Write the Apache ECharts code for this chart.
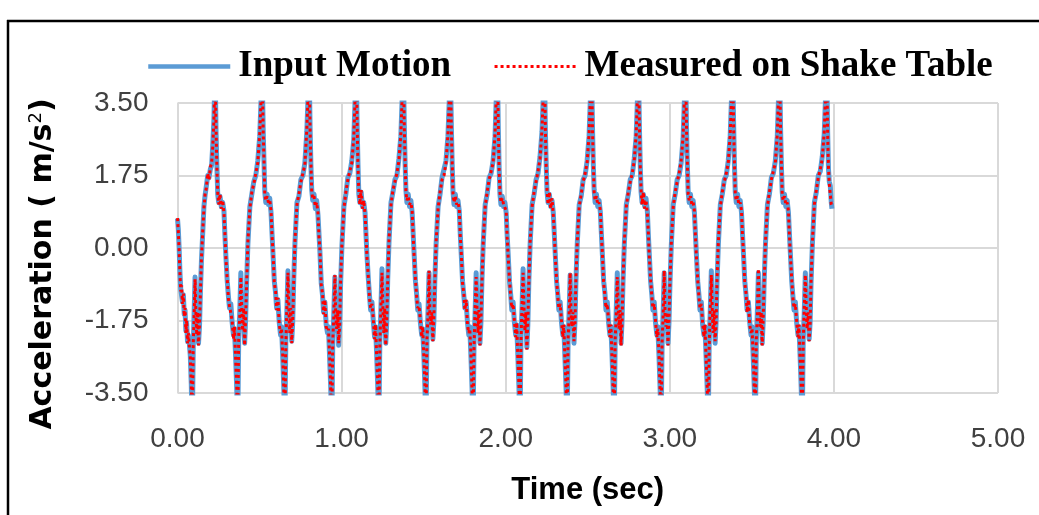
<!DOCTYPE html>
<html>
<head>
<meta charset="utf-8">
<title>Acceleration time history</title>
<script src="https://cdn.jsdelivr.net/npm/echarts@6/dist/echarts.min.js"></script>
<style>
  html, body { margin: 0; padding: 0; background: #fff; }
  #chart { width: 1039px; height: 515px; }
</style>
</head>
<body>
<div id="chart"></div>
<script>
// Sample times (ms)
const timeMs = [
  0, 5, 10, 15, 20, 25, 30, 36, 41, 46, 51, 56, 61, 66, 72, 78, 84, 90, 96, 101, 107, 112, 117, 122, 128, 134, 140, 146, 153, 161, 168, 176, 184, 192, 200, 208, 215, 222,
  229, 235, 240, 245, 251, 259, 267, 275, 283, 289, 295, 303, 311, 317, 325, 333, 341, 347, 354, 361, 367, 373, 379, 386, 391, 397, 403, 409, 415, 421, 429, 441, 453, 465, 477, 489, 501,
  516, 522, 527, 532, 538, 546, 554, 562, 570, 576, 582, 590, 598, 604, 612, 620, 628, 634, 641, 648, 654, 660, 666, 673, 678, 684, 690, 696, 702, 708, 716, 728, 740, 752, 764, 776, 788,
  802, 808, 813, 818, 824, 832, 840, 848, 856, 862, 868, 876, 884, 890, 898, 906, 914, 920, 927, 934, 940, 946, 952, 959, 964, 970, 976, 982, 988, 994, 1002, 1014, 1026, 1038, 1050, 1062, 1074,
  1089, 1095, 1100, 1105, 1111, 1119, 1127, 1135, 1143, 1149, 1155, 1163, 1171, 1177, 1185, 1193, 1201, 1207, 1214, 1221, 1227, 1233, 1239, 1246, 1251, 1257, 1263, 1269, 1275, 1281, 1289, 1301, 1313, 1325, 1337, 1349, 1361,
  1376, 1382, 1387, 1392, 1398, 1406, 1414, 1422, 1430, 1436, 1442, 1450, 1458, 1464, 1472, 1480, 1488, 1494, 1501, 1508, 1514, 1520, 1526, 1533, 1538, 1544, 1550, 1556, 1562, 1568, 1576, 1588, 1600, 1612, 1624, 1636, 1648,
  1663, 1669, 1674, 1679, 1685, 1693, 1701, 1709, 1717, 1723, 1729, 1737, 1745, 1751, 1759, 1767, 1775, 1781, 1788, 1795, 1801, 1807, 1813, 1820, 1825, 1831, 1837, 1843, 1849, 1855, 1863, 1875, 1887, 1899, 1911, 1923, 1935,
  1949, 1955, 1960, 1965, 1971, 1979, 1987, 1995, 2003, 2009, 2015, 2023, 2031, 2037, 2045, 2053, 2061, 2067, 2074, 2081, 2087, 2093, 2099, 2106, 2111, 2117, 2123, 2129, 2135, 2141, 2149, 2161, 2173, 2185, 2197, 2209, 2221,
  2236, 2242, 2247, 2252, 2258, 2266, 2274, 2282, 2290, 2296, 2302, 2310, 2318, 2324, 2332, 2340, 2348, 2354, 2361, 2368, 2374, 2380, 2386, 2393, 2398, 2404, 2410, 2416, 2422, 2428, 2436, 2448, 2460, 2472, 2484, 2496, 2508,
  2523, 2529, 2534, 2539, 2545, 2553, 2561, 2569, 2577, 2583, 2589, 2597, 2605, 2611, 2619, 2627, 2635, 2641, 2648, 2655, 2661, 2667, 2673, 2680, 2685, 2691, 2697, 2703, 2709, 2715, 2723, 2735, 2747, 2759, 2771, 2783, 2795,
  2809, 2815, 2820, 2825, 2831, 2839, 2847, 2855, 2863, 2869, 2875, 2883, 2891, 2897, 2905, 2913, 2921, 2927, 2934, 2941, 2947, 2953, 2959, 2966, 2971, 2977, 2983, 2989, 2995, 3001, 3009, 3021, 3033, 3045, 3057, 3069, 3081,
  3096, 3102, 3107, 3112, 3118, 3126, 3134, 3142, 3150, 3156, 3162, 3170, 3178, 3184, 3192, 3200, 3208, 3214, 3221, 3228, 3234, 3240, 3246, 3253, 3258, 3264, 3270, 3276, 3282, 3288, 3296, 3308, 3320, 3332, 3344, 3356, 3368,
  3383, 3389, 3394, 3399, 3405, 3413, 3421, 3429, 3437, 3443, 3449, 3457, 3465, 3471, 3479, 3487, 3495, 3501, 3508, 3515, 3521, 3527, 3533, 3540, 3545, 3551, 3557, 3563, 3569, 3575, 3583, 3595, 3607, 3619, 3631, 3643, 3655,
  3669, 3675, 3680, 3685, 3691, 3699, 3707, 3715, 3723, 3729, 3735, 3743, 3751, 3757, 3765, 3773, 3781, 3787, 3794, 3801, 3807, 3813, 3819, 3826, 3831, 3837, 3843, 3849, 3855, 3861, 3869, 3881, 3893, 3905, 3917, 3929, 3941,
  3956, 3962, 3967, 3972, 3978, 3984, 3988
];

// Input motion acceleration (m/s2)
const inputMotion = [
  0.71, 0.45, 0.0, -0.6, -1.0, -0.97, -1.3, -1.13, -1.6, -1.5, -2.0, -1.8, -2.26, -2.1, -2.3, -2.6, -3.3, -4.4, -2.4, -1.6, -0.7, -1.6, -2.0, -1.6, -2.3, -1.9, -1.0, -0.3, 0.3, 1.0, 1.27, 1.5, 1.75, 1.7, 1.9, 2.0, 2.5, 3.1,
  4.4, 2.8, 2.0, 1.3, 1.1, 1.25, 1.0, 1.1, 0.9, 0.3, -0.2, -0.8, -1.2, -1.45, -1.35, -1.8, -2.1, -1.95, -2.6, -3.4, -4.4, -2.2, -1.6, -0.6, -1.5, -1.9, -1.55, -2.3, -1.75, -0.85, 0.1, 1.0, 1.3, 1.6, 1.75, 2.1, 2.7,
  4.3, 2.9, 2.1, 1.35, 1.1, 1.3, 1.05, 1.2, 0.85, 0.35, -0.15, -0.8, -1.1, -1.45, -1.25, -1.8, -2.1, -1.9, -2.6, -3.4, -4.4, -2.3, -1.6, -0.55, -1.45, -1.95, -1.5, -2.25, -1.8, -0.8, 0.15, 1.1, 1.25, 1.65, 1.75, 2.05, 2.8,
  4.4, 2.9, 2.0, 1.4, 1.15, 1.3, 0.95, 1.15, 0.8, 0.35, -0.1, -0.85, -1.15, -1.55, -1.3, -1.85, -2.05, -1.9, -2.65, -3.4, -4.5, -2.35, -1.65, -0.7, -1.5, -2.0, -1.45, -2.35, -1.85, -0.85, 0.05, 1.0, 1.3, 1.7, 1.8, 2.1, 2.6,
  4.4, 2.9, 2.0, 1.3, 1.1, 1.35, 1.0, 1.1, 0.85, 0.3, -0.2, -0.75, -1.2, -1.5, -1.3, -1.75, -2.15, -1.9, -2.6, -3.45, -4.4, -2.25, -1.55, -0.5, -1.4, -1.95, -1.5, -2.3, -1.8, -0.75, 0.15, 1.1, 1.35, 1.65, 1.75, 2.15, 2.7,
  4.4, 3.0, 2.05, 1.4, 1.1, 1.3, 1.0, 1.15, 0.85, 0.35, -0.15, -0.8, -1.15, -1.5, -1.35, -1.8, -2.1, -1.95, -2.55, -3.4, -4.4, -2.3, -1.6, -0.6, -1.5, -1.9, -1.5, -2.2, -1.8, -0.8, 0.1, 1.0, 1.3, 1.7, 1.7, 2.1, 2.7,
  4.3, 2.9, 2.0, 1.35, 1.05, 1.3, 1.0, 1.15, 0.9, 0.35, -0.15, -0.8, -1.15, -1.45, -1.3, -1.8, -2.1, -1.9, -2.6, -3.4, -4.4, -2.3, -1.65, -0.6, -1.55, -2.0, -1.55, -2.3, -1.8, -0.8, 0.1, 1.05, 1.3, 1.7, 1.8, 2.1, 2.7,
  4.4, 2.9, 1.95, 1.3, 1.05, 1.25, 1.0, 1.1, 0.85, 0.3, -0.15, -0.8, -1.15, -1.5, -1.3, -1.8, -2.1, -1.85, -2.6, -3.4, -4.5, -2.2, -1.5, -0.5, -1.5, -1.95, -1.6, -2.4, -1.85, -0.8, 0.1, 1.05, 1.3, 1.65, 1.8, 2.2, 2.8,
  4.4, 2.8, 2.0, 1.35, 1.1, 1.3, 1.0, 1.15, 0.85, 0.35, -0.15, -0.8, -1.15, -1.5, -1.3, -1.8, -2.1, -1.9, -2.65, -3.4, -4.4, -2.3, -1.6, -0.65, -1.5, -1.95, -1.5, -2.3, -1.8, -0.8, 0.1, 1.05, 1.25, 1.65, 1.75, 2.1, 2.7,
  4.4, 2.9, 2.0, 1.4, 1.1, 1.3, 1.0, 1.15, 0.85, 0.35, -0.15, -0.8, -1.1, -1.5, -1.3, -1.8, -2.1, -1.9, -2.6, -3.4, -4.4, -2.3, -1.6, -0.6, -1.5, -1.9, -1.55, -2.3, -1.75, -0.8, 0.1, 1.05, 1.3, 1.65, 1.75, 2.15, 2.7,
  4.3, 2.9, 2.0, 1.35, 1.1, 1.3, 1.0, 1.2, 0.9, 0.35, -0.15, -0.8, -1.15, -1.5, -1.3, -1.8, -2.1, -1.9, -2.6, -3.4, -4.4, -2.35, -1.6, -0.6, -1.5, -1.95, -1.6, -2.3, -1.8, -0.85, 0.05, 1.05, 1.3, 1.65, 1.75, 2.05, 2.65,
  4.4, 2.9, 2.0, 1.35, 1.1, 1.3, 1.0, 1.15, 0.85, 0.35, -0.15, -0.8, -1.15, -1.5, -1.3, -1.85, -2.1, -1.9, -2.6, -3.4, -4.4, -2.3, -1.6, -0.55, -1.5, -1.95, -1.55, -2.3, -1.8, -0.8, 0.1, 1.05, 1.3, 1.65, 1.75, 2.1, 2.7,
  4.4, 3.0, 2.0, 1.35, 1.1, 1.3, 1.0, 1.15, 0.85, 0.35, -0.15, -0.8, -1.15, -1.5, -1.3, -1.8, -2.1, -1.9, -2.6, -3.4, -4.4, -2.3, -1.6, -0.6, -1.5, -1.95, -1.5, -2.3, -1.8, -0.8, 0.1, 1.05, 1.3, 1.7, 1.8, 2.1, 2.7,
  4.4, 2.9, 2.0, 1.35, 1.1, 1.3, 1.0, 1.15, 0.85, 0.35, -0.15, -0.8, -1.2, -1.5, -1.3, -1.8, -2.1, -1.9, -2.6, -3.4, -4.4, -2.2, -1.6, -0.6, -1.5, -1.9, -1.5, -2.2, -1.8, -0.8, 0.1, 1.1, 1.35, 1.75, 1.85, 2.2, 2.75,
  4.4, 2.8, 1.9, 1.6, 1.5, 1.1, 0.95
];

// Acceleration recorded on the shake table (m/s2)
const shakeTable = [
  0.72, 0.4, -0.05, -0.65, -1.05, -0.9, -1.35, -1.1, -1.65, -1.45, -2.05, -1.75, -2.3, -2.05, -2.35, -2.65, -3.3, -4.4, -2.3, -1.7, -0.75, -1.55, -2.1, -1.55, -2.35, -1.85, -1.05, -0.25, 0.35, 0.95, 1.3, 1.45, 1.8, 1.65, 1.95, 2.05, 2.45, 3.1,
  4.4, 2.85, 1.95, 1.35, 1.05, 1.3, 0.95, 1.15, 0.85, 0.35, -0.25, -0.75, -1.25, -1.4, -1.4, -1.75, -2.2, -1.9, -2.65, -3.35, -4.4, -2.1, -1.7, -0.7, -1.4, -2.0, -1.45, -2.35, -1.7, -0.9, 0.15, 0.95, 1.35, 1.55, 1.8, 2.05, 2.75,
  4.3, 2.85, 2.15, 1.3, 1.15, 1.25, 1.1, 1.15, 0.9, 0.3, -0.1, -0.85, -1.05, -1.5, -1.2, -1.85, -2.05, -1.95, -2.55, -3.45, -4.4, -2.4, -1.5, -0.6, -1.4, -2.05, -1.45, -2.3, -1.75, -0.85, 0.2, 1.05, 1.3, 1.6, 1.8, 2.0, 2.85,
  4.4, 2.85, 2.05, 1.35, 1.2, 1.25, 1.0, 1.1, 0.85, 0.3, -0.05, -0.9, -1.1, -1.6, -1.25, -1.9, -2.0, -1.95, -2.6, -3.45, -4.5, -2.25, -1.7, -0.65, -1.6, -1.95, -1.5, -2.3, -1.9, -0.8, 0.1, 0.95, 1.35, 1.65, 1.85, 2.05, 2.65,
  4.4, 2.95, 1.95, 1.35, 1.05, 1.4, 0.95, 1.15, 0.8, 0.35, -0.25, -0.7, -1.25, -1.45, -1.35, -1.7, -2.2, -1.85, -2.65, -3.4, -4.4, -2.35, -1.5, -0.6, -1.35, -2.05, -1.45, -2.35, -1.75, -0.8, 0.2, 1.05, 1.4, 1.6, 1.8, 2.1, 2.75,
  4.4, 2.95, 2.1, 1.35, 1.15, 1.25, 1.05, 1.1, 0.9, 0.3, -0.2, -0.75, -1.2, -1.45, -1.4, -1.75, -2.15, -1.9, -2.6, -3.35, -4.4, -2.2, -1.7, -0.55, -1.6, -1.85, -1.55, -2.25, -1.7, -0.85, 0.15, 0.95, 1.35, 1.65, 1.75, 2.05, 2.75,
  4.3, 2.85, 2.05, 1.3, 1.1, 1.25, 1.05, 1.1, 0.95, 0.3, -0.1, -0.85, -1.1, -1.5, -1.25, -1.85, -2.05, -1.95, -2.55, -3.45, -4.4, -2.4, -1.55, -0.7, -1.45, -2.05, -1.5, -2.35, -1.75, -0.85, 0.15, 1.0, 1.35, 1.65, 1.85, 2.05, 2.75,
  4.4, 2.95, 1.9, 1.35, 1.1, 1.2, 1.05, 1.05, 0.9, 0.25, -0.2, -0.75, -1.2, -1.45, -1.35, -1.75, -2.15, -1.8, -2.65, -3.35, -4.5, -2.3, -1.4, -0.6, -1.4, -2.0, -1.55, -2.45, -1.8, -0.85, 0.15, 1.0, 1.35, 1.6, 1.85, 2.15, 2.85,
  4.4, 2.85, 1.95, 1.4, 1.05, 1.35, 0.95, 1.2, 0.8, 0.4, -0.2, -0.75, -1.2, -1.45, -1.35, -1.75, -2.15, -1.85, -2.7, -3.35, -4.4, -2.2, -1.7, -0.6, -1.6, -1.9, -1.55, -2.25, -1.85, -0.75, 0.15, 1.0, 1.3, 1.6, 1.8, 2.05, 2.75,
  4.4, 2.85, 2.05, 1.35, 1.15, 1.25, 1.05, 1.1, 0.9, 0.3, -0.1, -0.85, -1.15, -1.45, -1.35, -1.75, -2.15, -1.85, -2.65, -3.45, -4.4, -2.2, -1.7, -0.7, -1.4, -1.95, -1.5, -2.35, -1.8, -0.75, 0.15, 1.0, 1.35, 1.6, 1.8, 2.1, 2.75,
  4.3, 2.95, 1.95, 1.4, 1.05, 1.35, 0.95, 1.15, 0.85, 0.4, -0.2, -0.75, -1.2, -1.45, -1.35, -1.75, -2.15, -1.95, -2.55, -3.45, -4.4, -2.25, -1.7, -0.55, -1.6, -1.9, -1.55, -2.35, -1.75, -0.8, 0.1, 1.0, 1.35, 1.6, 1.8, 2.1, 2.7,
  4.4, 2.85, 2.05, 1.3, 1.15, 1.25, 1.05, 1.1, 0.9, 0.3, -0.2, -0.75, -1.2, -1.45, -1.35, -1.8, -2.15, -1.85, -2.65, -3.35, -4.4, -2.4, -1.5, -0.65, -1.4, -2.05, -1.5, -2.25, -1.85, -0.75, 0.15, 1.0, 1.35, 1.6, 1.8, 2.05, 2.75,
  4.4, 2.95, 2.05, 1.3, 1.15, 1.25, 1.05, 1.1, 0.9, 0.3, -0.1, -0.85, -1.1, -1.55, -1.25, -1.85, -2.05, -1.95, -2.55, -3.45, -4.4, -2.2, -1.7, -0.5, -1.6, -1.9, -1.55, -2.35, -1.7, -0.85, 0.15, 1.0, 1.35, 1.65, 1.85, 2.05, 2.75,
  4.4, 2.85, 2.05, 1.3, 1.15, 1.25, 1.05, 1.1, 0.9, 0.3, -0.2, -0.75, -1.25, -1.45, -1.35, -1.75, -2.15, -1.85, -2.65, -3.35, -4.4, -2.3, -1.5, -0.65, -1.4, -1.95, -1.55, -2.25, -1.85, -0.75, 0.15, 1.05, 1.4, 1.7, 1.9, 2.15, 2.8,
  4.4, 2.75, 1.95, 1.55, 1.55, 1.05, 1.0
];

const seriesNames = ['Input Motion', 'Measured on Shake Table'];
const xTitle = 'Time (sec)';

if (inputMotion.length !== timeMs.length || shakeTable.length !== timeMs.length) {
  throw new Error('length mismatch: t=' + timeMs.length + ' in=' + inputMotion.length + ' meas=' + shakeTable.length);
}

// [time in seconds, acceleration]
const pairs = (vals) => timeMs.map((t, i) => [t / 1000, vals[i]]);

const chart = echarts.init(document.getElementById('chart'), null, { renderer: 'canvas' });

const blue = '#5b9bd5';
const red = '#ff0000';
const gridColor = '#d9d9d9';
const tickFont = { fontFamily: 'Liberation Sans', fontSize: 28, color: '#404040' };

chart.setOption({
  backgroundColor: '#ffffff',
  animation: false,
  grid: {
    left: 177.5, right: 41, top: 103, bottom: 122,
    containLabel: false,
    outerBoundsMode: 'none'
  },
  legend: {
    data: [
      { name: seriesNames[0], lineStyle: { color: blue, width: 4.5 } },
      { name: seriesNames[1], lineStyle: { color: red, width: 3, type: [3, 3] } }
    ],
    left: 141,
    top: 43,
    itemWidth: 82,
    itemHeight: 14,
    itemGap: 42,
    itemStyle: { opacity: 0, borderWidth: 0 },
    textStyle: {
      fontFamily: 'Liberation Serif',
      fontWeight: 'bold',
      fontSize: 37,
      color: '#000000',
      padding: [0, 0, 0, 3]
    }
  },
  xAxis: {
    type: 'value',
    min: 0, max: 5, interval: 1,
    name: xTitle,
    nameLocation: 'middle',
    nameGap: 82,
    nameTextStyle: { fontFamily: 'Liberation Sans', fontWeight: 'bold', fontSize: 31, color: '#000' },
    axisLine: { show: false },
    axisTick: { show: false },
    axisLabel: Object.assign({ margin: 32, formatter: (v) => v.toFixed(2) }, tickFont),
    splitLine: { show: true, lineStyle: { color: gridColor, width: 2 } }
  },
  yAxis: {
    type: 'value',
    min: -3.5, max: 3.5, interval: 1.75,
    name: '{t|Acceleration ( m/s}{sup|2}{t|)}',
    nameLocation: 'middle',
    nameGap: 118,
    nameRotate: 90,
    nameTextStyle: {
      padding: [0, 32, 0, 0],
      rich: {
        t: { fontFamily: 'DejaVu Sans', fontWeight: 'bold', fontSize: 30, color: '#000' },
        sup: { fontFamily: 'DejaVu Sans', fontSize: 18, color: '#000', verticalAlign: 'top', padding: [0, 0, 14, 0] }
      }
    },
    axisLine: { show: false },
    axisTick: { show: false },
    axisLabel: Object.assign({ margin: 29, formatter: (v) => v.toFixed(2) }, tickFont),
    splitLine: { show: true, lineStyle: { color: gridColor, width: 2 } }
  },
  series: [
    {
      name: seriesNames[0],
      type: 'line',
      data: pairs(inputMotion),
      showSymbol: false,
      symbol: 'none',
      clip: true,
      lineStyle: { color: blue, width: 5, join: 'round' },
      itemStyle: { color: blue },
      z: 2
    },
    {
      name: seriesNames[1],
      type: 'line',
      data: pairs(shakeTable),
      showSymbol: false,
      symbol: 'none',
      clip: true,
      lineStyle: { color: red, width: 3, type: [3, 3] },
      itemStyle: { color: red },
      z: 3
    }
  ],
  graphic: [
    { type: 'line', shape: { x1: 7, y1: 21, x2: 1039, y2: 21 }, style: { stroke: '#000', lineWidth: 2.5 } },
    { type: 'line', shape: { x1: 8, y1: 20, x2: 8, y2: 515 }, style: { stroke: '#000', lineWidth: 2.5 } }
  ]
});
</script>
</body>
</html>
